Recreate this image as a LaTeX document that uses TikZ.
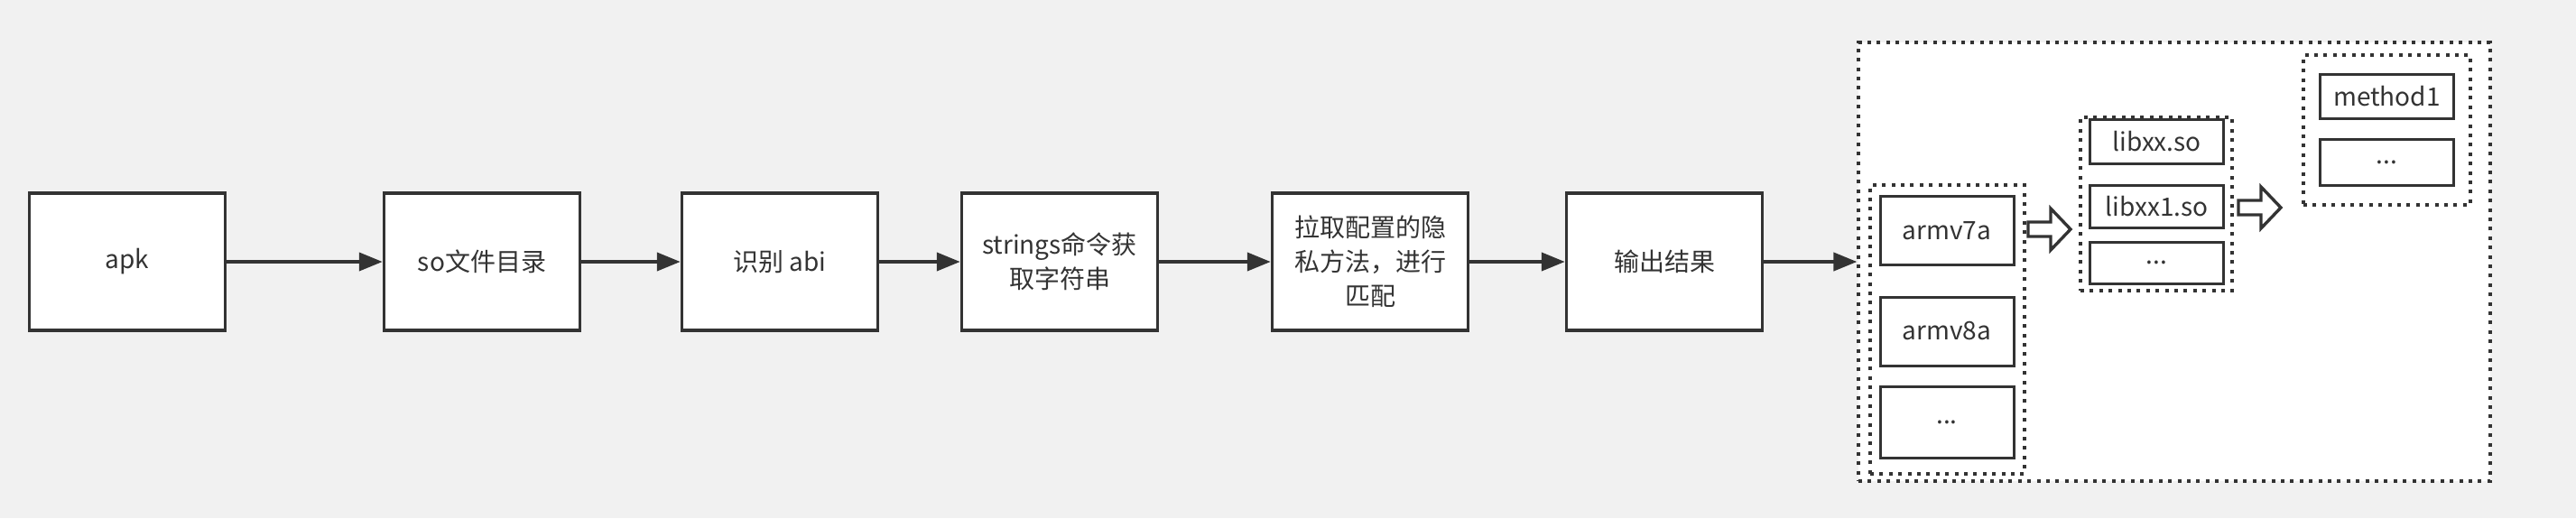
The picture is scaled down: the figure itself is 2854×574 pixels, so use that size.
\documentclass[tikz,border=0pt]{standalone}
\usepackage{fontspec}
\setmainfont{Noto Sans CJK SC}
\usetikzlibrary{arrows.meta}

\definecolor{bgc}{RGB}{241,241,241}
\definecolor{linec}{RGB}{51,51,51}

\begin{document}
\begin{tikzpicture}[x=0.5pt,y=-0.5pt,
  box/.style={draw=linec,fill=white,line width=1.7pt,text=linec,align=center,
    minimum width=108.5pt,minimum height=76pt,inner sep=0pt,font=\fontsize{14}{19}\selectfont},
  small/.style={box,line width=1.5pt,minimum width=74pt},
  grp/.style={draw=linec,line width=1.6pt,dash pattern=on 2pt off 3.2pt,inner sep=0pt},
  flow/.style={draw=linec,line width=2pt,-{Triangle[length=13pt,width=10pt]}},
  hollow/.style={draw=linec,fill=white,line width=1.7pt,line join=miter}]
\newcommand{\hollowarrow}[2]{\draw[hollow,shift={(#1,#2)}] (0,-8) -- (25,-8) -- (25,-23) -- (47,0) -- (25,23) -- (25,8) -- (0,8) -- cycle;}

%background, keeps the page size
\fill[bgc] (0,0) rectangle (2854,574);
\useasboundingbox (0,0) rectangle (2854,574);

%main chain
\node[box] (apk) at (141,290) {apk};
\node[box] (sodir) at (534,290) {so文件目录};
\node[box] (abi) at (864,290) {识别 abi};
\node[box] (strs) at (1174,290) {strings命令获\\取字符串};
\node[box] (match) at (1518,290) {拉取配置的隐\\私方法，进行\\匹配};
\node[box] (result) at (1844,290) {输出结果};

%result area
\node[grp,fill=white,minimum width=350pt,minimum height=243pt] (outer) at (2409,290) {};

%abi group
\node[grp,minimum width=85.5pt,minimum height=160pt] (abigrp) at (2157.5,365) {};
\node[small,minimum height=38pt] (v7) at (2157,255.5) {armv7a};
\node[small,minimum height=38pt] (v8) at (2157,367) {armv8a};
\node[small,minimum height=39.5pt] (vdots) at (2157,468) {...};

%so group
\node[grp,minimum width=84pt,minimum height=96pt] (sogrp) at (2389,226) {};
\node[small,minimum height=24.5pt] (libxx) at (2389.5,157) {libxx.so};
\node[small,minimum height=23.5pt] (libxxa) at (2389.5,228.5) {libxx1.so};
\node[small,minimum height=23pt] (libdots) at (2389.5,291) {...};

%method group
\node[grp,minimum width=92.5pt,minimum height=83pt] (mgrp) at (2644.5,144) {};
\node[small,minimum height=24.5pt] (meth) at (2644.5,107) {method1};
\node[small,minimum height=25.5pt] (mdots) at (2644.5,180) {...};

%hollow arrows between groups
\hollowarrow{2247}{254}
\hollowarrow{2480}{230}

%arrows
\draw[flow] (apk) -- (sodir);
\draw[flow] (sodir) -- (abi);
\draw[flow] (abi) -- (strs);
\draw[flow] (strs) -- (match);
\draw[flow] (match) -- (result);
\draw[flow] (result) -- (outer.west |- result);

\end{tikzpicture}
\end{document}
